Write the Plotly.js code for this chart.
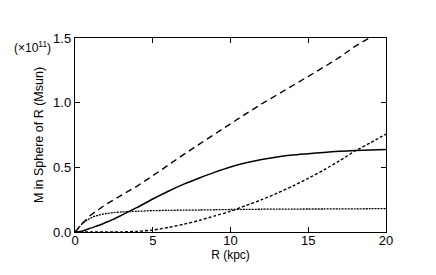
<!DOCTYPE html>
<html>
<head>
<meta charset="utf-8">
<script src="https://cdn.plot.ly/plotly-3.0.1.min.js"></script>
<style>html,body{margin:0;padding:0;background:#fff;}#plot{width:436px;height:275px;}</style>
</head>
<body>
<div id="plot"></div>
<script>
// Radius (kpc)
var radius = [0,0.5,1,1.5,2,2.5,3,4,5,6,7,8,9,10,11,12,13,14,15,16,17,18,19,20];
// Mass inside sphere of radius R (units of 1e11 Msun)
var massTotal = [0,0.07,0.13,0.175,0.215,0.25,0.285,0.355,0.435,0.52,0.60,0.68,0.76,0.84,0.915,0.99,1.06,1.13,1.20,1.275,1.35,1.435,1.505,1.575];
var massDisk  = [0,0.008,0.03,0.05,0.075,0.10,0.13,0.19,0.255,0.315,0.37,0.418,0.463,0.503,0.535,0.56,0.58,0.595,0.605,0.615,0.624,0.63,0.634,0.637];
var massBulge = [0,0.068,0.108,0.13,0.143,0.15,0.155,0.16,0.165,0.167,0.169,0.17,0.172,0.174,0.175,0.176,0.177,0.177,0.178,0.178,0.179,0.179,0.18,0.18];
var massHalo  = [0,0,0,0,0,0,0.001,0.005,0.015,0.035,0.06,0.09,0.125,0.16,0.205,0.25,0.30,0.355,0.415,0.48,0.55,0.625,0.69,0.757];
var xTicks = [0,5,10,15,20];
var yTicks = [0,0.5,1.0,1.5];
var yTickText = ['0.0','0.5','1.0','1.5'];

var traces = [
  {x: radius, y: massTotal, mode:'lines', line:{color:'#000', width:1.4, dash:'6.5px,4.3px'}},
  {x: radius, y: massDisk, mode:'lines', line:{color:'#000', width:1.5, shape:'spline', smoothing:0.6}},
  {x: radius, y: massBulge, mode:'lines', line:{color:'#000', width:1.3, dash:'2px,1px', shape:'spline', smoothing:0.6}},
  {x: radius, y: massHalo, mode:'lines', line:{color:'#000', width:1.4, dash:'3px,2px', shape:'spline', smoothing:0.6}}
];

var axisCommon = {
  showgrid:false, zeroline:false, showline:true, mirror:'ticks',
  linecolor:'#000', linewidth:1.2, ticks:'inside', ticklen:5, tickwidth:1.2, tickcolor:'#000',
  tickfont:{family:'Liberation Sans, Arial, sans-serif', size:13, color:'#000'}
};

var layout = {
  width:436, height:275,
  margin:{l:74.5, r:50, t:38, b:43},
  paper_bgcolor:'#fff', plot_bgcolor:'#fff',
  showlegend:false,
  font:{family:'Liberation Sans, Arial, sans-serif', color:'#000'},
  xaxis: Object.assign({}, axisCommon, {
    range:[0,20], tickvals:xTicks, ticktext:xTicks.map(String), ticklabelstandoff:-4,
    title:{text:'R (kpc)', font:{size:12, color:'#000'}, standoff:2}
  }),
  yaxis: Object.assign({}, axisCommon, {
    range:[0,1.5], tickvals:yTicks, ticktext:yTickText,
    title:{text:'M in Sphere of R (Msun)', font:{size:12.5, color:'#000'}, standoff:6}
  }),
  annotations:[{
    text:'(×10<sup>11</sup>)', xref:'paper', yref:'paper', x:-0.136, y:0.954,
    xanchor:'center', yanchor:'middle', showarrow:false,
    font:{family:'Liberation Sans, Arial, sans-serif', size:12, color:'#000'}
  }]
};

Plotly.newPlot('plot', traces, layout, {staticPlot:true, displayModeBar:false});
</script>
</body>
</html>
